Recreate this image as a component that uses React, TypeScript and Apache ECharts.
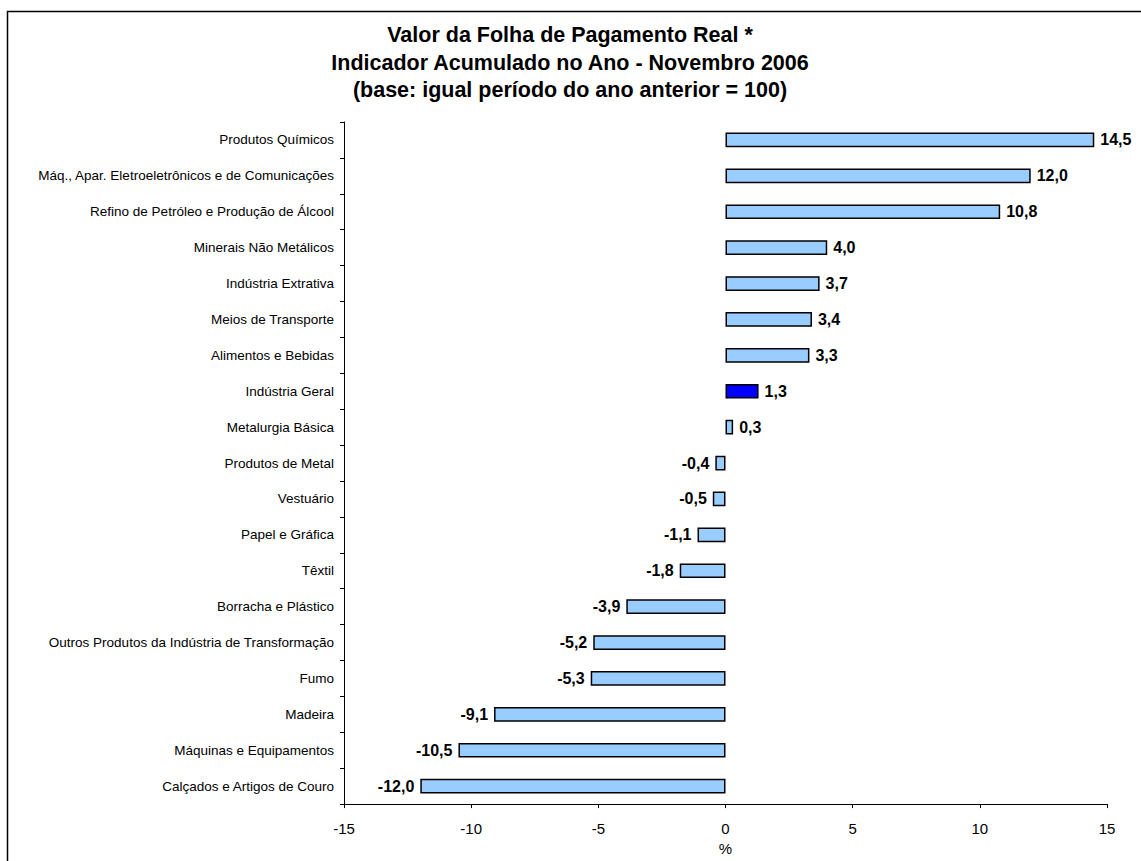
import React, { useEffect, useRef } from "react";
import * as echarts from "echarts";

const titleLines = [
  "Valor da Folha de Pagamento Real *",
  "Indicador Acumulado no Ano - Novembro 2006",
  "(base: igual período do ano anterior = 100)",
];

const categories = [
  "Produtos Químicos",
  "Máq., Apar. Eletroeletrônicos e de Comunicações",
  "Refino de Petróleo e Produção de Álcool",
  "Minerais Não Metálicos",
  "Indústria Extrativa",
  "Meios de Transporte",
  "Alimentos e Bebidas",
  "Indústria Geral",
  "Metalurgia Básica",
  "Produtos de Metal",
  "Vestuário",
  "Papel e Gráfica",
  "Têxtil",
  "Borracha e Plástico",
  "Outros Produtos da Indústria de Transformação",
  "Fumo",
  "Madeira",
  "Máquinas e Equipamentos",
  "Calçados e Artigos de Couro",
];

const values = [
  14.5, 12.0, 10.8, 4.0, 3.7, 3.4, 3.3, 1.3, 0.3, -0.4, -0.5, -1.1, -1.8, -3.9,
  -5.2, -5.3, -9.1, -10.5, -12.0,
];

const highlighted = ["Indústria Geral"];

const xTicks = { min: -15, max: 15, interval: 5 };
const axisName = "%";

const FONT = "'Liberation Sans', Arial, sans-serif";

export default function App() {
  const ref = useRef<HTMLDivElement>(null);

  useEffect(() => {
    document.body.style.margin = "0";
    if (!ref.current) return;
    const chart = echarts.init(ref.current, undefined, { renderer: "svg" });

    const data = values.map((v, i) => ({
      value: v,
      itemStyle: {
        color: highlighted.includes(categories[i]) ? "#0000FF" : "#99CCFF",
      },
      label: { position: v >= 0 ? "right" : "left" },
    }));

    const titleGraphics = titleLines.map((t, i) => ({
      type: "text",
      x: 570,
      y: 35 + i * 27.5,
      silent: true,
      style: {
        text: t,
        fontFamily: FONT,
        fontSize: 21.5,
        fontWeight: "bold",
        fill: "#000",
        align: "center",
        verticalAlign: "middle",
      },
    }));

    chart.setOption({
      animation: false,
      backgroundColor: "#ffffff",
      graphic: [
        {
          type: "rect",
          shape: { x: 7.5, y: 11.5, width: 1400, height: 1000 },
          style: { fill: "none", stroke: "#000", lineWidth: 1.5 },
          silent: true,
        },
        ...titleGraphics,
      ],
      grid: { left: 344, right: 34, top: 122, bottom: 51, containLabel: false },
      xAxis: {
        type: "value",
        min: xTicks.min,
        max: xTicks.max,
        interval: xTicks.interval,
        name: axisName,
        nameLocation: "middle",
        nameGap: 32,
        nameTextStyle: { fontFamily: FONT, fontSize: 15, color: "#000" },
        splitLine: { show: false },
        axisLine: { show: true, lineStyle: { color: "#000", width: 1 } },
        axisTick: { show: true, length: 4, lineStyle: { color: "#000" } },
        axisLabel: {
          fontFamily: FONT,
          fontSize: 15,
          color: "#000",
          margin: 17,
        },
      },
      yAxis: [
        {
          type: "category",
          data: categories,
          inverse: true,
          position: "left",
          axisLine: { show: false },
          axisTick: { show: false },
          axisLabel: {
            fontFamily: FONT,
            fontSize: 13.5,
            color: "#000",
            margin: 10,
          },
        },
        {
          type: "category",
          data: categories,
          inverse: true,
          position: "left",
          axisLine: { show: true, onZero: true, lineStyle: { color: "#000", width: 1 } },
          axisTick: { show: true, length: 4, lineStyle: { color: "#000" } },
          axisLabel: { show: false },
        },
      ],
      series: [
        {
          type: "bar",
          yAxisIndex: 0,
          data,
          barWidth: "41%",
          itemStyle: { borderColor: "#000", borderWidth: 1.5 },
          label: {
            show: true,
            distance: 6,
            fontFamily: FONT,
            fontSize: 16,
            fontWeight: "bold",
            color: "#000",
            formatter: (p: any) => Number(p.value).toFixed(1).replace(".", ","),
          },
        },
      ],
    });

    return () => chart.dispose();
  }, []);

  return <div ref={ref} style={{ width: 1141, height: 861 }} />;
}
